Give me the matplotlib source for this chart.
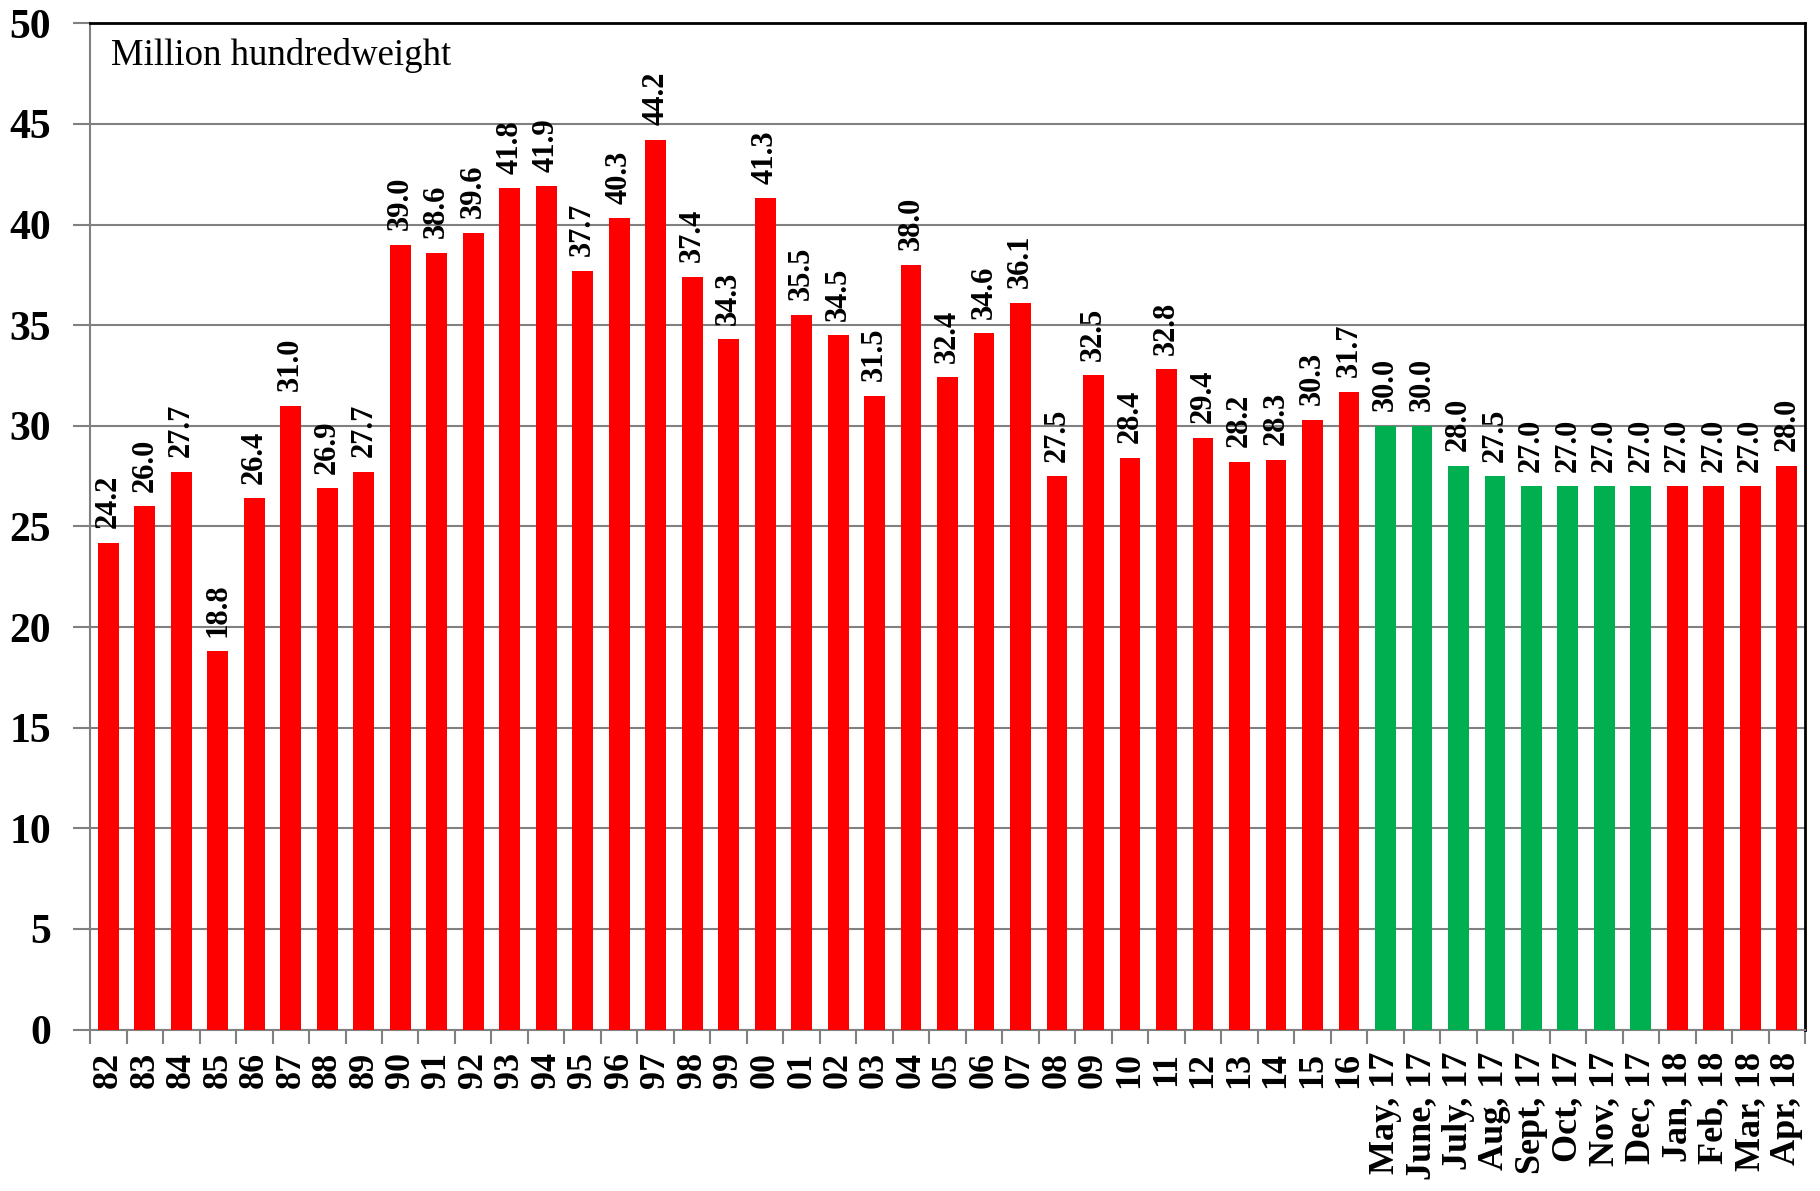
# Hay stocks bar chart (million hundredweight)
import numpy as np
import matplotlib
matplotlib.use("Agg")
import matplotlib.pyplot as plt

# Data
years = ['82', '83', '84', '85', '86', '87', '88', '89', '90', '91', '92', '93',
         '94', '95', '96', '97', '98', '99', '00', '01', '02', '03', '04', '05',
         '06', '07', '08', '09', '10', '11', '12', '13', '14', '15', '16']
months = ['May, 17', 'June, 17', 'July, 17', 'Aug, 17', 'Sept, 17', 'Oct, 17',
          'Nov, 17', 'Dec, 17', 'Jan, 18', 'Feb, 18', 'Mar, 18', 'Apr, 18']
year_values = [24.2, 26.0, 27.7, 18.8, 26.4, 31.0, 26.9, 27.7, 39.0, 38.6, 39.6, 41.8,
               41.9, 37.7, 40.3, 44.2, 37.4, 34.3, 41.3, 35.5, 34.5, 31.5, 38.0, 32.4,
               34.6, 36.1, 27.5, 32.5, 28.4, 32.8, 29.4, 28.2, 28.3, 30.3, 31.7]
month_values = [30.0, 30.0, 28.0, 27.5, 27.0, 27.0, 27.0, 27.0, 27.0, 27.0, 27.0, 28.0]
green_months = ['May, 17', 'June, 17', 'July, 17', 'Aug, 17', 'Sept, 17', 'Oct, 17',
                'Nov, 17', 'Dec, 17']

labels = years + months
values = year_values + month_values
colors = ['#00B050' if lab in green_months else '#FF0000' for lab in labels]

serif = ['Liberation Serif', 'DejaVu Serif']
plt.rcParams['font.family'] = serif

fig = plt.figure(figsize=(18.2, 11.91), dpi=100)
ax = fig.add_axes([0.0495, 0.1355, 0.9423, 0.845])

x = np.arange(len(labels))
bars = ax.bar(x, values, width=0.57, color=colors, zorder=3)

for xi, v in zip(x, values):
    ax.annotate(f'{v:.1f}', (xi, v), xytext=(0, 10.5), textcoords='offset points',
                rotation=90, ha='center', va='bottom', fontsize=22,
                fontweight='bold', zorder=4)

ax.set_xlim(-0.5, len(labels) - 0.5)
ax.set_ylim(0, 50)
ax.set_yticks(np.arange(0, 51, 5))
ax.yaxis.grid(True, color='#808080', linewidth=1.5, zorder=0)

ax.set_xticks(x)
ax.set_xticklabels(labels, rotation=90, fontsize=26, fontweight='bold')
ax.tick_params(axis='x', length=0, pad=16)
ax.set_xticks(np.arange(-0.5, len(labels), 1), minor=True)
ax.tick_params(axis='x', which='minor', length=10, width=1.5, color='#808080')
ax.tick_params(axis='y', length=12, width=1.5, color='#808080', pad=16,
               labelsize=30)
for t in ax.get_yticklabels():
    t.set_fontweight('bold')

ax.spines['left'].set_color('#808080')
ax.spines['bottom'].set_color('#808080')
ax.spines['left'].set_linewidth(1.5)
ax.spines['bottom'].set_linewidth(1.5)
ax.spines['top'].set_color('black')
ax.spines['right'].set_color('black')
ax.spines['top'].set_linewidth(2)
ax.spines['right'].set_linewidth(2)

ax.text(0.012, 0.985, 'Million hundredweight', transform=ax.transAxes,
        ha='left', va='top', fontsize=26.5, zorder=5)

fig.savefig('out.png', dpi=100)
